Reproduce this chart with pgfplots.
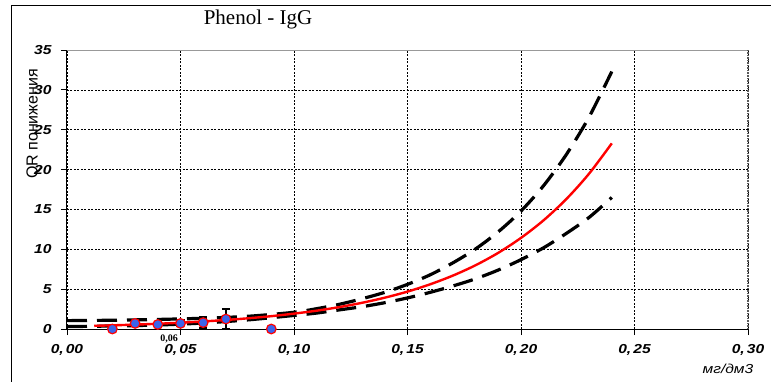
\documentclass[border=0pt]{standalone}
\usepackage{pgfplots}
\pgfplotsset{compat=1.18}
\usepackage{fontspec}
\setmainfont{Liberation Serif}
\setsansfont{Liberation Sans}
\newfontfamily\tickfont[FakeStretch=1.2]{Liberation Sans}
\definecolor{ptblue}{RGB}{60,100,235}
\begin{document}
\begin{tikzpicture}[x=1pt,y=1pt]
\useasboundingbox (-67,-52) rectangle (704,329);
\draw[line width=1pt] (-55,-60) -- (-55,323) -- (710,323);
\begin{axis}[
  at={(0,0)}, anchor=south west,
  scale only axis, width=681pt, height=279pt,
  xmin=0, xmax=0.30, ymin=0, ymax=35,
  xtick={0,0.05,0.10,0.15,0.20,0.25,0.30},
  ytick={0,5,10,15,20,25,30,35},
  axis line style={draw=none},
  tick pos=left, tick align=outside, major tick length=6pt,
  tick style={black, line width=0.8pt},
  grid=major,
  major grid style={black, line width=0.6pt, dash pattern=on 2pt off 1.5pt},
  /pgf/number format/assume math mode=true,
  x tick label style={font=\tickfont\bfseries\itshape\fontsize{13}{13}\selectfont,
     /pgf/number format/.cd, fixed, fixed zerofill, precision=2,
     set decimal separator={,\hspace{2pt}}, /tikz/.cd},
  y tick label style={font=\tickfont\bfseries\itshape\fontsize{13}{13}\selectfont},
  xticklabel shift=6pt,
  yticklabel shift=6pt,
  title={Phenol - IgG},
  title style={at={(axis description cs:0.2805,1.088)}, anchor=center,
     font=\rmfamily\fontsize{21}{21}\selectfont},
  ylabel={QR понижения},
  ylabel style={at={(axis description cs:-0.049,0.735)}, anchor=center, rotate=0,
     font=\sffamily\fontsize{16}{16}\selectfont},
  xlabel={мг/дм3},
  xlabel style={at={(axis description cs:0.9706,-0.143)}, anchor=center,
     font=\tickfont\itshape\fontsize{13}{13}\selectfont},
  clip=false,
]
% upper confidence band
\addplot[black, line width=3.2pt, dash pattern=on 20pt off 10pt, smooth, no marks] coordinates {
(0,1.05) (0.02,1.1) (0.04,1.2) (0.06,1.35) (0.08,1.6) (0.10,2.1) (0.11,2.55)
(0.12,3.1) (0.13,3.8) (0.14,4.6) (0.15,5.6) (0.16,6.8) (0.17,8.3) (0.18,10.05)
(0.19,12.2) (0.20,14.8) (0.21,18.0) (0.22,21.9) (0.23,26.6) (0.24,32.3)};
% lower confidence band
\addplot[black, line width=3.2pt, dash pattern=on 20pt off 10pt, smooth, no marks] coordinates {
(0,0.3) (0.02,0.38) (0.04,0.5) (0.06,0.75) (0.08,1.15) (0.10,1.7) (0.11,2.0)
(0.12,2.4) (0.13,2.8) (0.14,3.3) (0.15,3.9) (0.16,4.6) (0.17,5.4) (0.18,6.3)
(0.19,7.4) (0.20,8.7) (0.21,10.2) (0.22,12.0) (0.23,14.0) (0.24,16.5)};
% fitted curve
\addplot[red, line width=2.4pt, smooth, no marks] coordinates {
(0.012,0.40) (0.02,0.46) (0.03,0.55) (0.04,0.66) (0.05,0.79) (0.06,0.95)
(0.07,1.13) (0.08,1.35) (0.09,1.61) (0.10,1.93) (0.11,2.30) (0.12,2.75)
(0.13,3.29) (0.14,3.93) (0.15,4.69) (0.16,5.61) (0.17,6.70) (0.18,8.00)
(0.19,9.56) (0.20,11.43) (0.21,13.65) (0.22,16.31) (0.23,19.49) (0.24,23.29)};
% data points
\addplot[only marks, mark=*, mark size=4.8pt,
  mark options={fill=ptblue, draw=red, line width=1.2pt},
  error bars/.cd, y dir=both, y explicit,
  error bar style={black, line width=1.6pt},
  error mark options={rotate=90, mark size=4pt, line width=1.6pt, black}]
  table[x=x, y=y, y error=e] {
x y e
0.02 0.0 0.0
0.03 0.7 0.4
0.04 0.57 0.0
0.05 0.7 0.4
0.06 0.8 0.7
0.07 1.25 1.25
0.09 0.0 0.0
};
% axis frame
\draw[black, line width=1pt] (rel axis cs:0,0) -- (rel axis cs:0,1);
\draw[black, line width=1pt] (rel axis cs:0,0) -- (rel axis cs:1,0);
\draw[gray!80, line width=1pt] (rel axis cs:0,1) -- (rel axis cs:1,1);
\draw[gray!70!black, line width=1.2pt, dash pattern=on 1.5pt off 1pt] (rel axis cs:1,0) -- (rel axis cs:1,1);
\node[font=\rmfamily\bfseries\fontsize{10}{10}\selectfont] at (axis description cs:0.150,-0.036) {0,06};
\end{axis}
\end{tikzpicture}
\end{document}
